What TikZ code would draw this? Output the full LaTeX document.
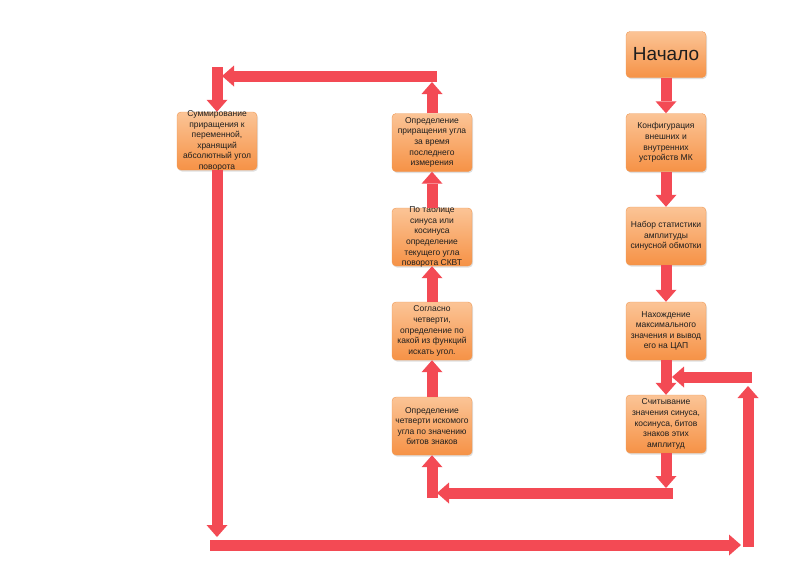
\documentclass[tikz,border=0pt]{standalone}
\usepackage{fontspec}
\setmainfont{Liberation Sans}
\usetikzlibrary{arrows.meta,shadows}

\definecolor{boxtop}{RGB}{251,196,150}
\definecolor{boxbot}{RGB}{246,146,70}
\definecolor{boxline}{RGB}{238,152,84}
\definecolor{boxtext}{RGB}{30,30,30}
\definecolor{arrowred}{RGB}{243,74,84}

\begin{document}
\begin{tikzpicture}[x=1pt,y=-1pt,
        stepbox/.style={rectangle,rounded corners=4pt,draw=boxline,top color=boxtop,bottom color=boxbot,
          drop shadow={opacity=0.25,shadow xshift=1pt,shadow yshift=-1.5pt},
          minimum width=80pt,minimum height=58pt,align=center,inner sep=2pt,
          text=boxtext,font=\fontsize{8.5}{10.6}\selectfont},
        blockarrow/.style={color=arrowred,line width=11pt,
          -{Triangle[width=21pt,length=12pt,line width=0pt,fill=arrowred]}}]

    \useasboundingbox (0,0) rectangle (800,566);

    % right column
    \node[stepbox,minimum height=46pt,font=\fontsize{19}{22}\selectfont] (start) at (666,54.5) {Начало};
    \node[stepbox] (conf) at (666,142.5) {Конфигурация\\внешних и\\внутренних\\устройств МК};
    \node[stepbox] (stat) at (666,236) {Набор статистики\\амплитуды\\синусной обмотки};
    \node[stepbox] (maxv) at (666,331) {Нахождение\\максимального\\значения и вывод\\его на ЦАП};
    \node[stepbox] (read) at (666,424) {Считывание\\значения синуса,\\косинуса, битов\\знаков этих\\амплитуд};

    % middle column
    \node[stepbox] (quad) at (432,426) {Определение\\четверти искомого\\угла по значению\\битов знаков};
    \node[stepbox] (func) at (432,331) {Согласно\\четверти,\\определение по\\какой из функций\\искать угол.};
    \node[stepbox,inner ysep=-2pt] (table) at (432,237) {По таблице\\синуса или\\косинуса\\определение\\текущего угла\\поворота СКВТ};
    \node[stepbox] (incr) at (432,142.5) {Определение\\приращения угла\\за время\\последнего\\измерения};

    % left column
    \node[stepbox,inner ysep=-2pt] (sum) at (217,141) {Суммирование\\приращения к\\переменной,\\хранящий\\абсолютный угол\\поворота};

    % bends of the loops
    \coordinate (incrtop) at (432,82);
    \coordinate (topR) at (437,76);
    \coordinate (topL) at (222,76);
    \coordinate (sumtop) at (217,67);
    \coordinate (sumbot) at (217,537);
    \coordinate (botL) at (210,545);
    \coordinate (botR) at (741,545);
    \coordinate (rightB) at (748,547);
    \coordinate (rightT) at (748,386);
    \coordinate (backR) at (752,377);
    \coordinate (backL) at (672,377);
    \coordinate (readbot) at (666,488);
    \coordinate (midR) at (673,493);
    \coordinate (midL) at (437,493);
    \coordinate (quadbot) at (432,498);

    \path[blockarrow]
    (start) edge (conf)
    (conf) edge (stat)
    (stat) edge (maxv)
    (maxv) edge (read)
    (read.south) edge (readbot)
    (midR) edge (midL)
    (quadbot) edge (quad.south)
    (quad) edge (func)
    (func) edge (table)
    (table) edge (incr)
    (incr.north) edge (incrtop)
    (topR) edge (topL)
    (sumtop) edge (sum.north)
    (sum.south) edge (sumbot)
    (botL) edge (botR)
    (rightB) edge (rightT)
    (backR) edge (backL);
\end{tikzpicture}
\end{document}
